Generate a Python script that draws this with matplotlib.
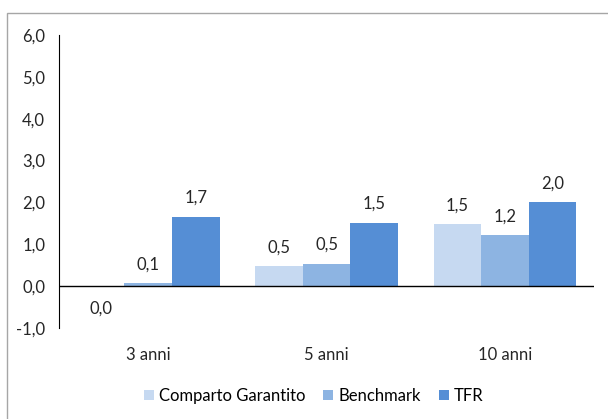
import matplotlib
matplotlib.use("Agg")
import matplotlib.pyplot as plt
from matplotlib.patches import Rectangle
from matplotlib import font_manager
import numpy as np

names = {f.name for f in font_manager.fontManager.ttflist}
fam = [f for f in ['Lato', 'Open Sans', 'Liberation Sans'] if f in names]
plt.rcParams['font.family'] = fam + ['DejaVu Sans']

categories = ["3 anni", "5 anni", "10 anni"]
series = ["Comparto Garantito", "Benchmark", "TFR"]
comparto = [-0.02, 0.48, 1.48]
benchmark = [0.07, 0.54, 1.22]
tfr = [1.66, 1.51, 2.01]
colors = ["#C6D9F1", "#8DB4E2", "#558ED5"]

fs = 12

fig = plt.figure(figsize=(6.08, 4.19), dpi=100)
fig.patches.append(Rectangle((7 / 608, -0.1), 1.2, 1 - 13 / 419 + 0.1,
                             transform=fig.transFigure, fill=False,
                             edgecolor="#A6A6A6", linewidth=1))
ax = fig.add_axes([59 / 608, 1 - 328 / 419, (594 - 59) / 608, (328 - 35) / 419])

x = np.arange(len(categories))
w = 0.8 / 3
for i, (name, vals) in enumerate(zip(series, [comparto, benchmark, tfr])):
    pos = x + (i - 1) * w
    ax.bar(pos, vals, width=w, color=colors[i], label=name, zorder=2)
    for px, v in zip(pos, vals):
        txt = f"{round(v, 1) + 0.0:.1f}".replace(".", ",")
        off = 0.45 if v >= 0 else -0.52
        ax.text(px, v + off, txt, ha="center", va="center", fontsize=fs,
                color="#262626")

ax.set_xlim(-0.5, 2.5)
ax.set_ylim(-1, 6)
ax.set_yticks(np.arange(-1, 7, 1))
ax.set_yticklabels([f"{t:.1f}".replace(".", ",") for t in np.arange(-1, 7, 1)])
ax.set_xticks(x)
ax.set_xticklabels(categories)
ax.tick_params(axis="both", length=0, labelsize=fs, colors="#262626")
ax.tick_params(axis="y", pad=10)
ax.tick_params(axis="x", pad=14)
for s in ["top", "right", "bottom"]:
    ax.spines[s].set_visible(False)
ax.spines["left"].set_color("black")
ax.axhline(0, color="black", linewidth=1, zorder=3)

fig.legend(loc="center", bbox_to_anchor=(0.516, 1 - 396 / 419), ncol=3,
           frameon=False, fontsize=fs, handlelength=0.6, handleheight=0.6,
           handletextpad=0.3, columnspacing=1.1)

fig.savefig("out.png", dpi=100)
